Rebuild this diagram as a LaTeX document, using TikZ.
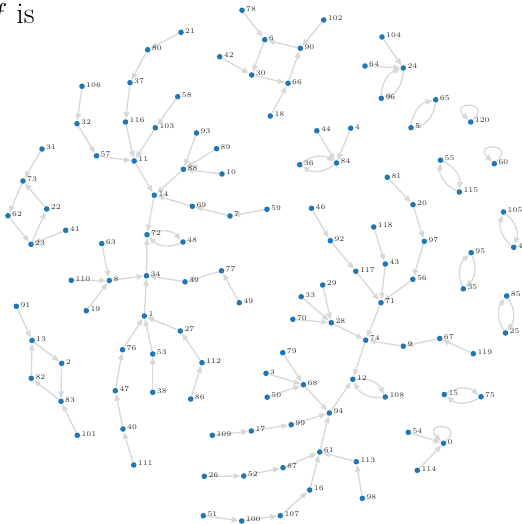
\documentclass[tikz,border=0pt]{standalone}
\usepackage{fontspec}
\usepackage{tikz}
\usetikzlibrary{arrows.meta, positioning}
\definecolor{dot}{HTML}{1F77B4}
\definecolor{edge}{HTML}{D8D8D8}
\definecolor{ink}{HTML}{333333}
\pgfdeclarelayer{back}
\pgfsetlayers{back,main}

\begin{document}
\begin{tikzpicture}[x=0.5pt, y=-0.5pt,
  lbl/.style={font=\fontsize{3.6}{4}\selectfont, text=ink, inner sep=0pt,
    label distance=0.3pt, yshift=0.8pt},
  vert/.style={circle, fill=dot, inner sep=0pt, minimum size=2.8pt,
    label={[lbl]0:#1}},
  arc/.style={draw=edge, line width=0.65pt,
    -{Triangle[length=3.4pt, width=2.8pt]}},
  ]
  \useasboundingbox (0,0) rectangle (522,524);
  \node[anchor=base west, inner sep=0pt, font=\fontsize{15}{17}\selectfont] (title) at (-10,23.5) {$f$ is};

  \foreach \n/\x/\y in {
    0/443.5/443.3, 1/144.3/316, 2/61.7/363.3, 3/266/373.3, 4/350.7/128.2,
    5/411/127.7, 6/264.7/39.7, 7/230/216, 8/109.3/280.5, 9/403.3/346.2,
    10/222/174, 11/134.2/161, 12/352.8/379.3, 13/32/340.5, 14/154.3/195.2,
    15/444.3/394.5, 16/309.7/490, 17/251.3/431, 18/270.3/116, 19/86.3/310.7,
    20/413/204.7, 21/181/32.3, 22/46.7/209, 23/31/244.3, 24/403.3/68,
    25/505.5/333, 26/204.3/476.3, 27/180.3/331, 28/331.3/322.7, 29/322.7/285,
    30/251.7/75, 31/42/149, 32/77/123.7, 33/301.2/296.7, 34/146.5/275.7,
    35/463.3/288.8, 36/299.7/164.7, 37/130/82.7, 38/152.7/392.3, 39/185/281.8,
    40/123/429, 41/65.7/230.3, 42/219.7/56.7, 43/385.3/264, 44/316.8/130.8,
    45/513.7/247.3, 46/311.5/208.3, 47/115.3/390.7, 48/183/242, 49/239.3/302.7,
    50/267.2/397.2, 51/203.3/515.7, 52/243.7/476, 53/152.7/354, 54/408.3/432.3,
    55/440.5/160.2, 56/412.8/279.3, 57/96.5/155.8, 58/177.7/96.7, 59/267/209.3,
    60/494.3/163.7, 61/319.7/452, 62/8/215.7, 63/101.7/243.6, 64/365/66,
    65/435.7/99.7, 66/288/83.3, 67/439.7/338.5, 68/303.5/384.7, 69/192.3/206.3,
    70/292.8/319.3, 71/381/302.7, 72/147/234.7, 73/23/181, 74/365.7/340.2,
    75/481/396.7, 76/122.5/349.7, 77/221.5/270.8, 78/242/10.3, 79/282.7/352.7,
    80/147.7/49.7, 81/387.3/177.3, 82/31.3/378.3, 83/61/401.3, 84/336.5/163,
    85/506.7/296, 86/190.7/399, 87/283/467.7, 88/183.5/169.3, 89/216.5/148.7,
    90/300.3/48.3, 91/16.3/306.3, 92/330.3/240.7, 93/196.5/133, 94/329.3/413,
    95/471.2/252.7, 96/381.3/98.3, 97/424.3/241.3, 98/362.3/498.3, 99/291.2/424.7,
    100/241.7/521, 101/77.3/435.3, 102/323.7/20, 103/155.3/127.8, 104/382/37,
    105/503.5/212, 106/82/86.3, 107/280.3/515.7, 108/385.3/397, 109/212.3/435.3,
    110/71.3/280.3, 111/133.7/465, 112/202/362.7, 113/356.3/461.7, 114/417.3/470.3,
    115/459.3/192, 116/125.5/122, 117/355.8/271.3, 118/373.7/227, 119/473.3/353.7,
    120/470.7/122}
    \node[vert=\n] (v\n) at (\x,\y) {};

  \begin{pgfonlayer}{back}
  \foreach \a/\b in {
    78/6, 102/90, 90/6, 6/30, 42/30, 30/66, 18/66, 66/90,
    21/80, 80/37, 37/116, 116/11, 106/32, 32/57, 57/11, 58/103, 103/11,
    11/14, 93/88, 89/88, 10/88, 88/14, 59/7, 7/69, 69/14, 14/72, 34/72,
    63/8, 110/8, 19/8, 8/34, 49/77, 77/39, 39/34, 1/34, 76/1, 53/1, 27/1,
    47/76, 40/47, 111/40, 38/53, 86/112, 112/27,
    31/73, 73/62, 62/23, 23/22, 22/73, 41/23,
    91/13, 13/2, 2/83, 83/82, 82/13, 101/83,
    104/24, 64/24, 44/84, 4/84, 54/0, 114/0,
    81/20, 20/97, 97/56, 56/71, 46/92, 92/117, 117/71, 118/43, 43/71, 71/74,
    33/28, 29/28, 70/28, 28/74, 119/67, 67/9, 9/74, 74/12, 94/12,
    79/68, 3/68, 50/68, 68/94, 109/17, 17/99, 99/94, 61/94,
    26/52, 52/87, 87/61, 51/100, 100/107, 107/16, 16/61, 113/61, 98/113}
    \draw[arc] (v\a) -- (v\b);
  \foreach \a/\b in {72/48, 24/96, 5/65, 84/36, 55/115, 105/45, 95/35, 85/25,
    15/75, 12/108} {
    \draw[arc] (v\a) to[bend left=35] (v\b);
    \draw[arc] (v\b) to[bend left=35] (v\a);
  }
  \foreach \a in {120, 60, 0}
    \draw[arc] (v\a) .. controls +(22,-21) and +(-22,-21) .. (v\a);
  \end{pgfonlayer}
\end{tikzpicture}
\end{document}
